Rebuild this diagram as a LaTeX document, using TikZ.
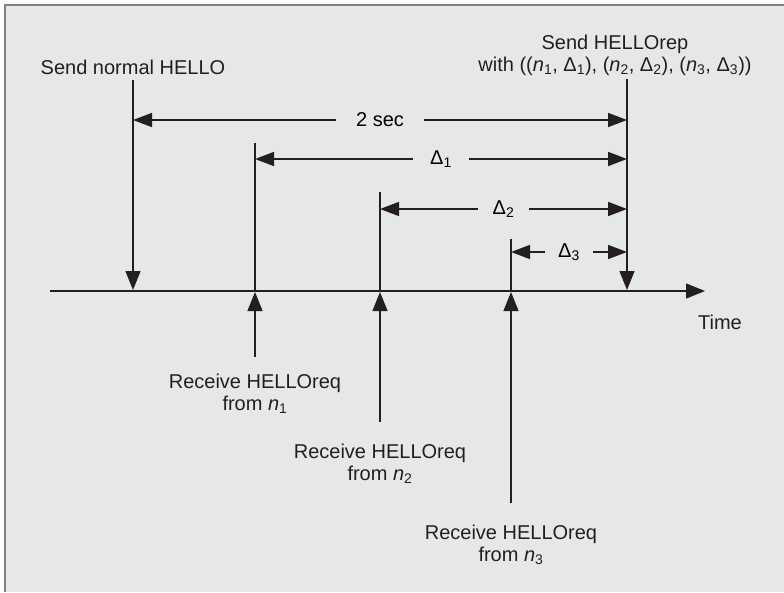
\documentclass[tikz,border=0pt]{standalone}
\usepackage{fontspec}
\setmainfont{Liberation Sans}
\usetikzlibrary{arrows.meta, positioning}

\definecolor{panel}{RGB}{230,231,233}
\definecolor{rim}{RGB}{128,128,128}
\definecolor{ink}{RGB}{35,31,32}

\begin{document}
\begin{tikzpicture}[x=1pt, y=-1pt,
        font=\fontsize{20}{22}\selectfont,
        line/.style={draw=ink, line width=1.3pt},
        tip/.style={line, -{Triangle[length=19pt, width=15pt]}},
        span/.style={draw=ink, line width=1.6pt, {Triangle[length=19pt, width=14pt]}-{Triangle[length=19pt, width=14pt]}},
        gap/.style={fill=panel, inner xsep=15pt, inner ysep=0pt},
        lbl/.style={align=center, inner sep=0pt, text=ink}
    ]
        % Panel
        \useasboundingbox (0,0) rectangle (784,592);
        \fill[panel] (5,5) rectangle (784,592);
        \draw[rim, line width=2pt] (5,592) -- (5,5) -- (784,5);

        % Time axis
        \coordinate (start) at (50,291);
        \coordinate (end) at (705,291);
        \draw[tip] (start) -- (end);
        \node[lbl] (time) at (720,322) {Time};

        % Events on the axis
        \coordinate (hello) at (133,290);
        \coordinate (rep) at (627,290);
        \coordinate (r1) at (255,292);
        \coordinate (r2) at (380,292);
        \coordinate (r3) at (511,292);

        % Sent messages
        \node[lbl] (sendhello) at (133,67) {Send normal HELLO};
        \node[lbl] (sendrep) at (615,55) {Send HELLOrep\\with ((\textit{n}\textsubscript{1}, Δ\textsubscript{1}), (\textit{n}\textsubscript{2}, Δ\textsubscript{2}), (\textit{n}\textsubscript{3}, Δ\textsubscript{3}))};
        \coordinate (hellotop) at (133,80);
        \coordinate (reptop) at (627,79);
        \draw[tip] (hellotop) -- (hello);
        \draw[tip] (reptop) -- (rep);

        % Received requests
        \node[lbl] (recv1) at (255,394) {Receive HELLOreq\\from \textit{n}\textsubscript{1}};
        \node[lbl] (recv2) at (380,464) {Receive HELLOreq\\from \textit{n}\textsubscript{2}};
        \node[lbl] (recv3) at (511,545) {Receive HELLOreq\\from \textit{n}\textsubscript{3}};
        \coordinate (r1top) at (255,143);
        \coordinate (r2top) at (380,192);
        \coordinate (r3top) at (511,239);
        \coordinate (r1foot) at (255,357);
        \coordinate (r2foot) at (380,422);
        \coordinate (r3foot) at (511,503);
        \draw[line] (r1top) -- (r1);
        \draw[line] (r2top) -- (r2);
        \draw[line] (r3top) -- (r3);
        \draw[tip] (r1foot) -- (r1);
        \draw[tip] (r2foot) -- (r2);
        \draw[tip] (r3foot) -- (r3);

        % Intervals
        \coordinate (a0) at (133,120);
        \coordinate (b0) at (627,120);
        \coordinate (a1) at (255,159);
        \coordinate (b1) at (627,159);
        \coordinate (a2) at (380,209);
        \coordinate (b2) at (627,209);
        \coordinate (a3) at (511,252);
        \coordinate (b3) at (627,252);
        \draw[span] (a0) -- node[gap, inner xsep=20pt] (twosec) {2 sec} (b0);
        \draw[span] (a1) -- node[gap, inner xsep=17pt] (d1) {Δ\textsubscript{1}} (b1);
        \draw[span] (a2) -- node[gap] (d2) {Δ\textsubscript{2}} (b2);
        \draw[span] (a3) -- node[gap, inner xsep=13pt] (d3) {Δ\textsubscript{3}} (b3);
    \end{tikzpicture}
\end{document}
